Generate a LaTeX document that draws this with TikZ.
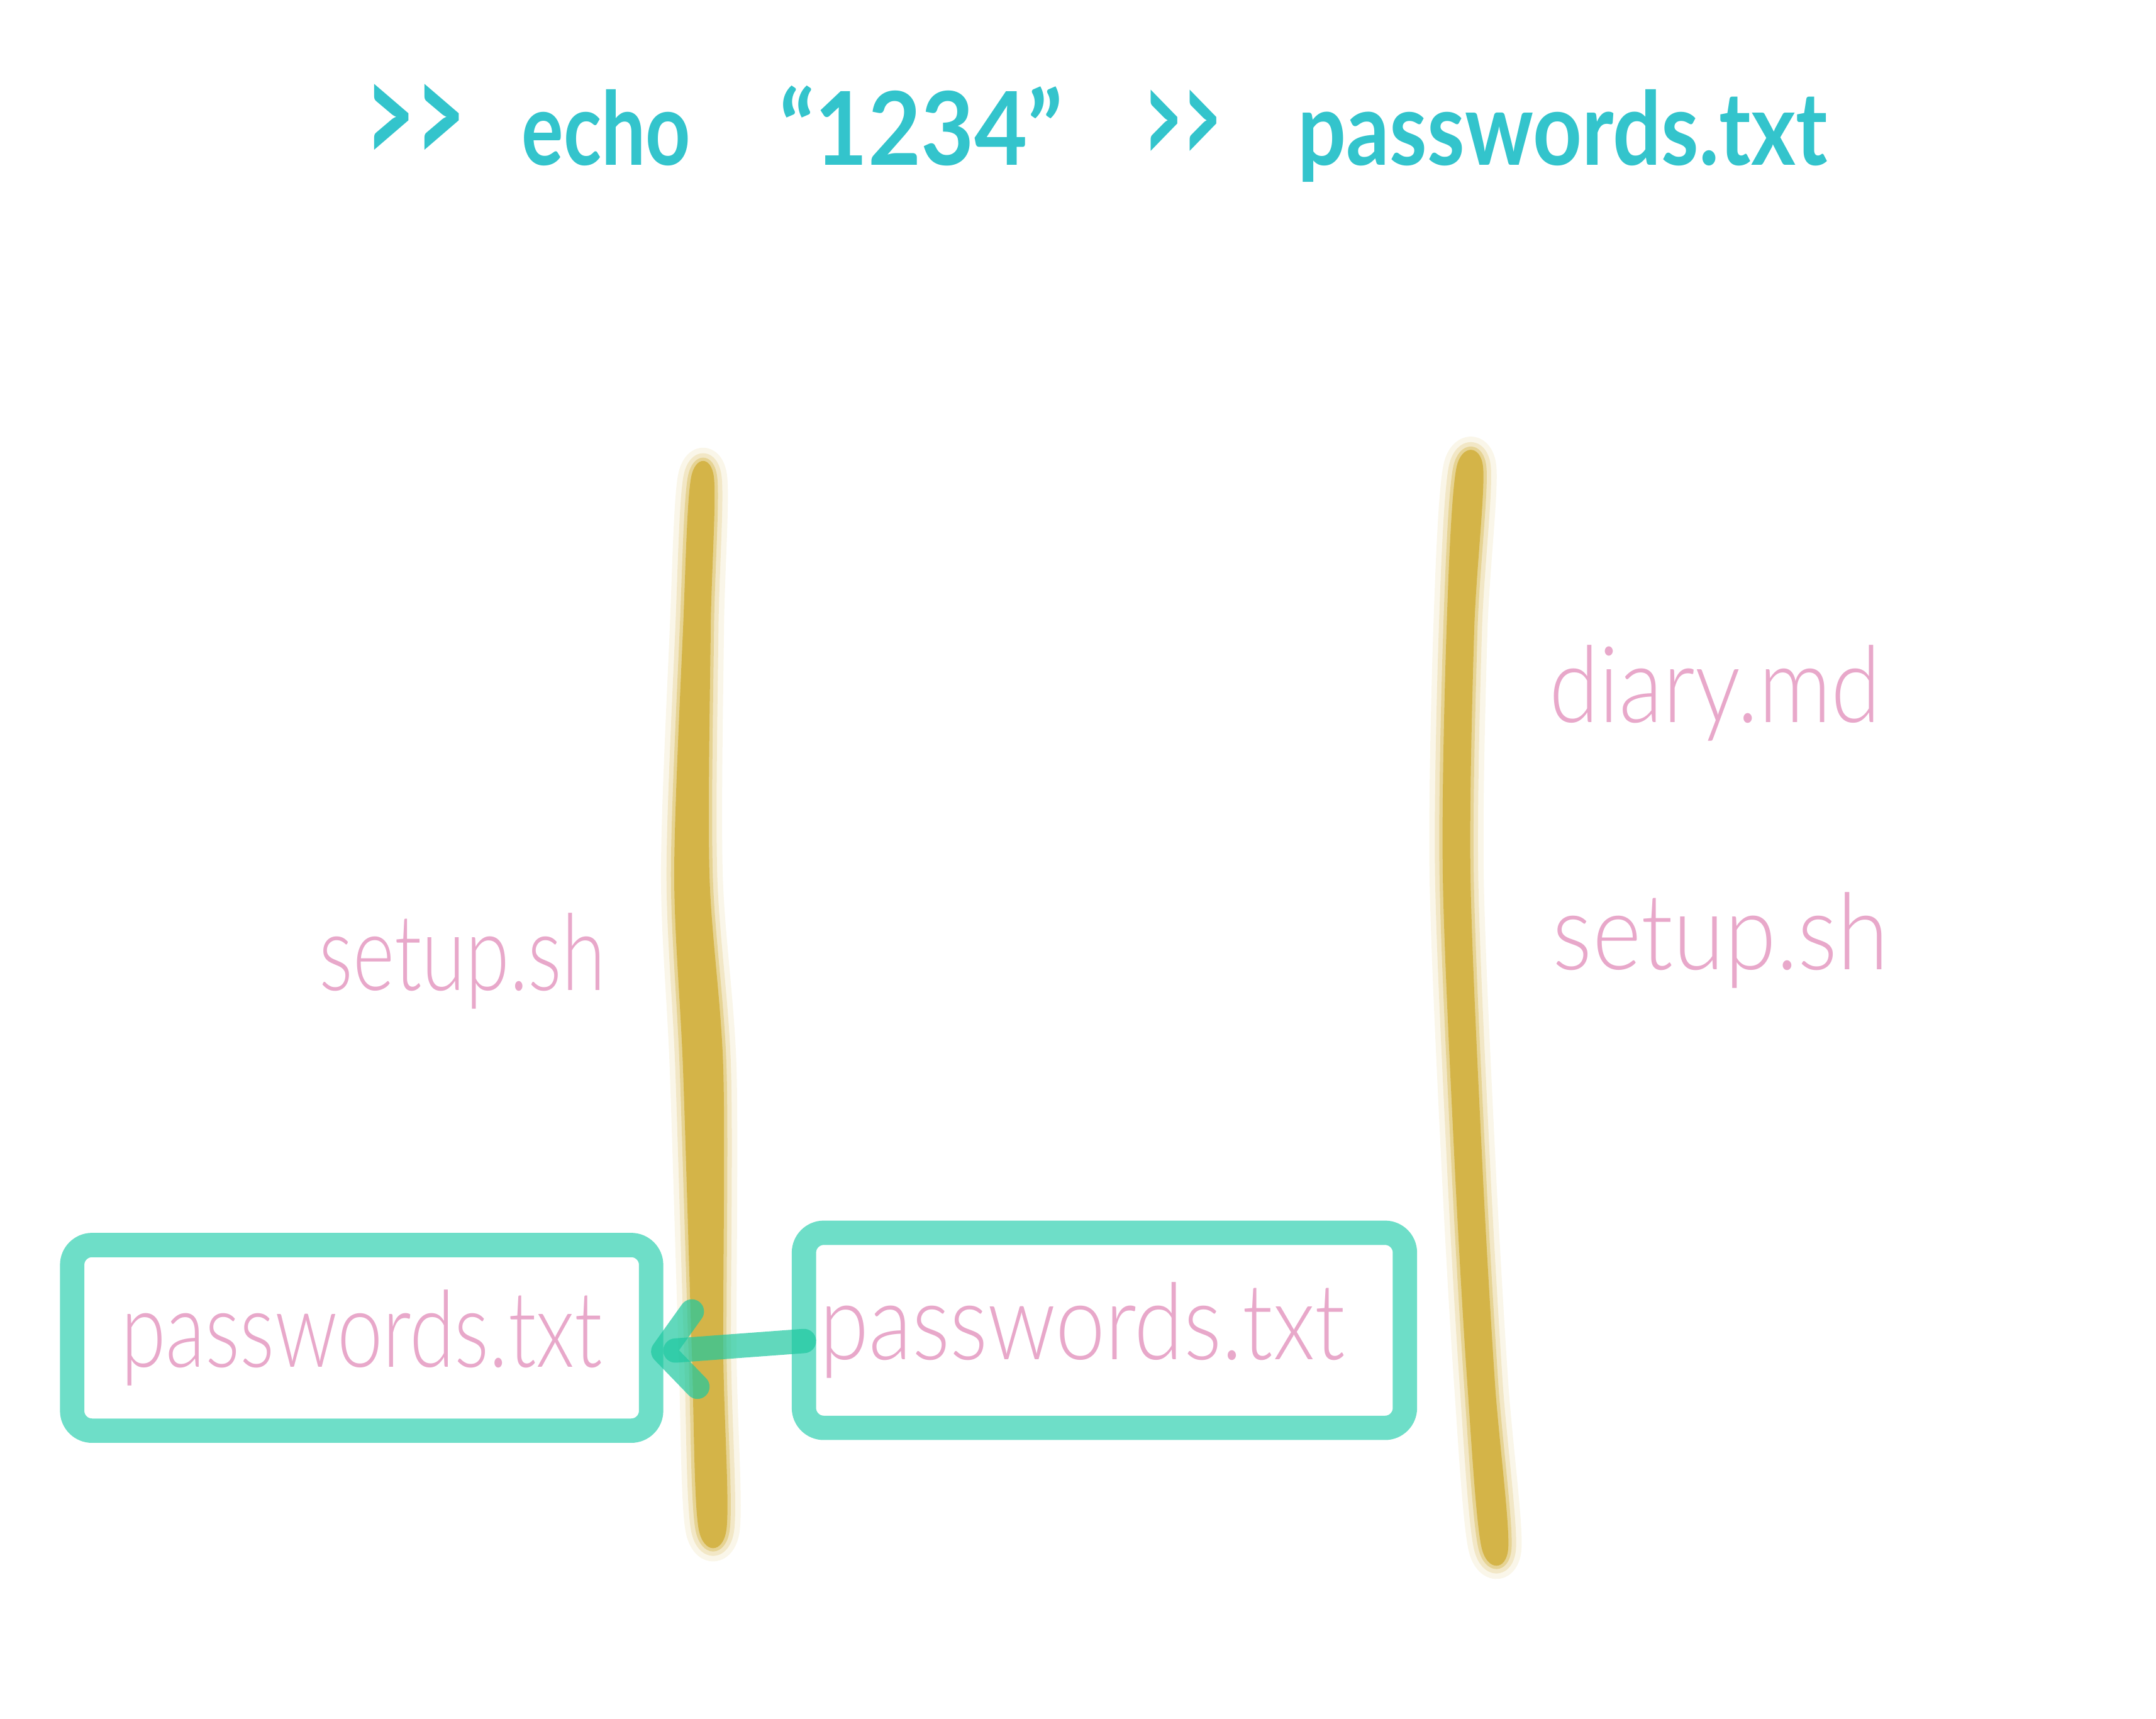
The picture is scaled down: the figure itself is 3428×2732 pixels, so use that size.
\documentclass[tikz,border=0pt]{standalone}
\usepackage{graphicx}
\usepackage{fontspec}
\setmainfont{Lato}
\newfontfamily\thinfont{Lato Light}
\usetikzlibrary{positioning, arrows.meta}
\definecolor{cmdteal}{RGB}{51,196,204}
\definecolor{namepink}{RGB}{232,168,202}
\definecolor{polegold}{RGB}{212,180,72}
\definecolor{boxteal}{RGB}{110,222,200}
\definecolor{flowteal}{RGB}{30,200,160}
\newcommand{\sqz}[2]{\scalebox{#1}[1]{#2}}
\tikzset{
  cmd/.style     = {font=\bfseries\fontsize{46}{50}\selectfont, text=cmdteal,
                    inner sep=0pt, anchor=base},
  fname/.style   = {font=\thinfont\fontsize{48}{52}\selectfont, text=namepink,
                    inner sep=0pt},
  filebox/.style = {fname, draw=boxteal, line width=11pt, rounded corners=9pt,
                    outer sep=0pt},
  polehaze/.style= {draw=polegold, draw opacity=#1, line join=round},
  pole/.style    = {fill=polegold, draw=none},
  flow/.style    = {draw=flowteal, draw opacity=.7, line width=11pt, line cap=round,
                    -{Straight Barb[length=5mm, width=12mm, round]}}
}

\begin{document}
\begin{tikzpicture}[x=0.01cm, y=-0.01cm]
  \useasboundingbox (0,0) rectangle (3428,2732);

  % Command line
  \node[cmd, anchor=base west] (prompt) at (580,262) {\scalebox{0.85}[1.4]{>{}>}};
  \node[cmd, base right=0.88cm of prompt] (echo) {\sqz{0.77}{echo}};
  \node[cmd, base right=1.4cm of echo] (str) {\sqz{0.9}{“1234”}};
  \node[cmd, base right=1.27cm of str] (redir) {\scalebox{0.66}[1.3]{>{}>}};
  \node[cmd, base right=1.2cm of redir] (target) {\sqz{0.84}{passwords.txt}};

  % Poles (soft edge, then core)
  \foreach \w/\o in {12pt/.12, 7pt/.22, 3pt/.4} {
    \path[polehaze=\o, line width=\w] plot[smooth cycle] coordinates {
      (1099,758) (1086,1000) (1072,1390) (1086,1700) (1100,2150) (1111,2432)
      (1155,2432) (1150,2150) (1150,1700) (1128,1390) (1130,1000) (1135,758)};
    \path[polehaze=\o, line width=\w] plot[smooth cycle] coordinates {
      (2316,742) (2300,1000) (2294,1392) (2313,1854) (2333,2200) (2356,2462)
      (2398,2462) (2377,2200) (2357,1854) (2338,1392) (2344,1000) (2358,742)};
  }
  \path[pole] plot[smooth cycle] coordinates {
    (1099,758) (1086,1000) (1072,1390) (1086,1700) (1100,2150) (1111,2432)
    (1155,2432) (1150,2150) (1150,1700) (1128,1390) (1130,1000) (1135,758)};
  \path[pole] plot[smooth cycle] coordinates {
    (2316,742) (2300,1000) (2294,1392) (2313,1854) (2333,2200) (2356,2462)
    (2398,2462) (2377,2200) (2357,1854) (2338,1392) (2344,1000) (2358,742)};

  % File names
  \node[fname, anchor=base] (setupA) at (735,1574) {\sqz{0.75}{setup.sh}};
  \node[fname, anchor=base] (diary) at (2727,1148) {\sqz{0.85}{diary.md}};
  \node[fname, anchor=base] (setupB) at (2736,1541) {\sqz{0.88}{setup.sh}};

  % Boxes
  \node[filebox, minimum width=9.2cm, minimum height=2.95cm]
    (oldfile) at (575,2127) {\sqz{0.77}{passwords.txt}};
  \node[filebox, minimum width=9.55cm, minimum height=3.1cm]
    (newfile) at (1756,2115) {\sqz{0.84}{passwords.txt}\hspace*{0.7cm}};

  % Arrow
  \draw[flow] ([yshift=-0.17cm]newfile.west) -- ([yshift=-0.23cm]oldfile.east);
\end{tikzpicture}
\end{document}
